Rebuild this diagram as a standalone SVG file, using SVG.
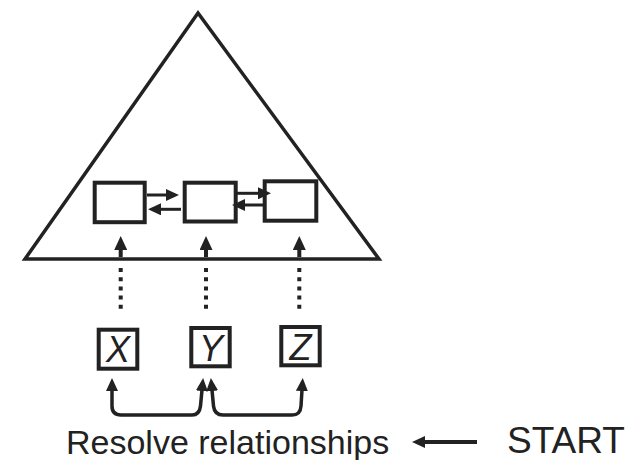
<svg xmlns="http://www.w3.org/2000/svg" width="636" height="460" viewBox="0 0 636 460">
<style>
.box{fill:#fff;stroke:#222;stroke-width:4}
.ln{fill:none;stroke:#222}
.lbl{font-family:"Liberation Sans",Arial,sans-serif;fill:#222}
.var{font-family:"Liberation Sans",Arial,sans-serif;font-style:italic;font-size:36px;fill:#222;text-anchor:middle}
</style>
<defs>
<marker id="ah" viewBox="0 -6.5 14 13" refX="1" refY="0" markerUnits="userSpaceOnUse" markerWidth="14" markerHeight="13" orient="auto-start-reverse">
<path d="M0,-6.5 L14,0 L0,6.5 z" fill="#222"/>
</marker>
<marker id="ahs" viewBox="0 -6 13 12" refX="1" refY="0" markerUnits="userSpaceOnUse" markerWidth="13" markerHeight="12" orient="auto-start-reverse">
<path d="M0,-6 L13,0 L0,6 z" fill="#222"/>
</marker>
</defs>
<g id="triangle">
<polygon points="198,13 25,259 379,259" fill="none" stroke="#222" stroke-width="3.5" stroke-linejoin="miter"/>
</g>
<g id="box1"><rect class="box" x="94.7" y="182.7" width="50" height="39.5"/></g>
<g id="box2"><rect class="box" x="184.7" y="182.7" width="51" height="38.8"/></g>
<g id="box3"><rect class="box" x="264.7" y="181.3" width="51.6" height="39.4"/></g>
<g id="nodeX"><rect class="box" x="98.7" y="329.7" width="38.6" height="39"/><text class="var" x="118" y="362">X</text></g>
<g id="nodeY"><rect class="box" x="191.3" y="328" width="38.4" height="38.3"/><text class="var" x="211" y="360.5">Y</text></g>
<g id="nodeZ"><rect class="box" x="281.3" y="327" width="38.4" height="38.3"/><text class="var" x="300.5" y="359.5">Z</text></g>
<g id="connectors">
<line class="ln" stroke-width="3" x1="147" y1="195" x2="167" y2="195" marker-end="url(#ahs)"/>
<line class="ln" stroke-width="3" x1="181" y1="209.3" x2="160" y2="209.3" marker-end="url(#ahs)"/>
<line class="ln" stroke-width="3" x1="237" y1="193.3" x2="259" y2="193.3" marker-end="url(#ahs)"/>
<line class="ln" stroke-width="3" x1="264" y1="205" x2="244" y2="205" marker-end="url(#ahs)"/>
<line class="ln" stroke-width="4" x1="120.7" y1="257" x2="120.7" y2="249" marker-end="url(#ah)"/>
<line class="ln" stroke-width="4" x1="206" y1="257" x2="206" y2="249" marker-end="url(#ah)"/>
<line class="ln" stroke-width="4" x1="299.3" y1="257" x2="299.3" y2="249" marker-end="url(#ah)"/>
<line class="ln" stroke-width="4" stroke-dasharray="4 5.2" x1="120.7" y1="268" x2="120.7" y2="310"/>
<line class="ln" stroke-width="4" stroke-dasharray="4 5.2" x1="206" y1="268" x2="206" y2="310"/>
<line class="ln" stroke-width="4" stroke-dasharray="4 5.2" x1="299.3" y1="268" x2="299.3" y2="310"/>
<path class="ln" stroke-width="3.5" d="M112,390 L112,406 Q112,415 121,415 L192,415 Q199.5,415 200.5,406 L202,390" marker-start="url(#ahs)" marker-end="url(#ahs)"/>
<path class="ln" stroke-width="3.5" d="M212,390 L213.5,406 Q214.5,415 223,415 L292,415 Q300.5,415 301,406 L302,390" marker-start="url(#ahs)" marker-end="url(#ahs)"/>
<line class="ln" stroke-width="4" x1="477" y1="442" x2="424" y2="442" marker-end="url(#ahs)"/>
</g>
<g id="labels">
<text class="lbl" x="66" y="454" font-size="34">Resolve relationships</text>
<text class="lbl" x="507" y="453" font-size="37">START</text>
</g>
</svg>
